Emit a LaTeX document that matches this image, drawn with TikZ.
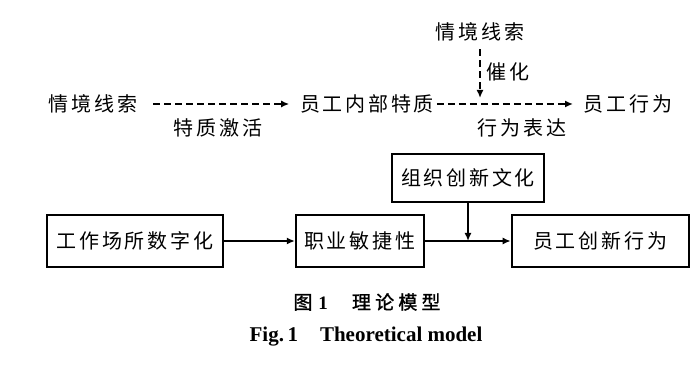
\documentclass[tikz,border=0pt]{standalone}
\usepackage{fontspec}
\setmainfont{Liberation Serif}
\newfontfamily\cjk{Noto Sans CJK SC}[LetterSpace=14]
\newfontfamily\cjkcap{Noto Sans CJK SC}[LetterSpace=22, FakeBold=1.2]
\usetikzlibrary{arrows.meta, positioning}

\begin{document}
\begin{tikzpicture}[x=1pt, y=1pt, >={Latex[length=8pt,width=7pt]}, line width=1.6pt]
    \tikzset{
        cue/.style={inner sep=0pt, font=\cjk\fontsize{20}{24}\selectfont},
        box/.style={draw, line width=1.8pt, inner sep=0pt, minimum height=52pt, font=\cjk\fontsize{20}{24}\selectfont},
        line/.style={draw, ->},
        dline/.style={draw, ->, dash pattern=on 7pt off 4pt}
    }
    \useasboundingbox (0,0) rectangle (700,382);
    
    \node (CueL) [cue] at (93,278) {情境线索};
    \node (Trait) [cue] at (367,278) {员工内部特质};
    \node (Behav) [cue] at (628,278) {员工行为};
    \node (CueT) [cue] at (480,350) {情境线索};
    \coordinate (Hit) at (CueT |- Trait);
    
    \node (Activate) [cue] at (218,254) {特质激活};
    \node (Express) [cue] at (522,254) {行为表达};
    \node (Catalyze) [cue] at (508,310) {催化};
    
    \node (Digital) [box, minimum width=176pt] at (135,141) {工作场所数字化};
    \node (Agile) [box, minimum width=128pt, right=71pt of Digital] {职业敏捷性};
    \node (Innov) [box, minimum width=177pt, right=86pt of Agile] {员工创新行为};
    \node (Culture) [box, minimum width=152pt, minimum height=48pt] at (468,204) {组织创新文化};
    \coordinate (Join) at (Culture.south |- Agile.east);
    
    \node (CapCN) [inner sep=0pt, font=\cjkcap\fontsize{19}{22}\selectfont] at (367,80) {图\hspace{6pt}{\rmfamily\bfseries 1}\hspace{24pt}理论模型};
    \node (CapEN) [inner sep=0pt, font=\bfseries\fontsize{21}{25}\selectfont] at (366,45) {Fig.\,1\hspace{22pt}Theoretical model};
    
    \path [dline] ([xshift=15pt]CueL.east) -- ([xshift=-10pt]Trait.west);
    \path [dline] ([xshift=2pt]Trait.east) -- ([xshift=-10pt]Behav.west);
    \path [dline, shorten <=7pt, shorten >=6pt] (CueT.south) -- (Hit);
    
    \path [line] (Digital) -- (Agile);
    \path [line] (Agile) -- (Innov);
    \path [line] (Culture) -- (Join);
    
\end{tikzpicture}
\end{document}
